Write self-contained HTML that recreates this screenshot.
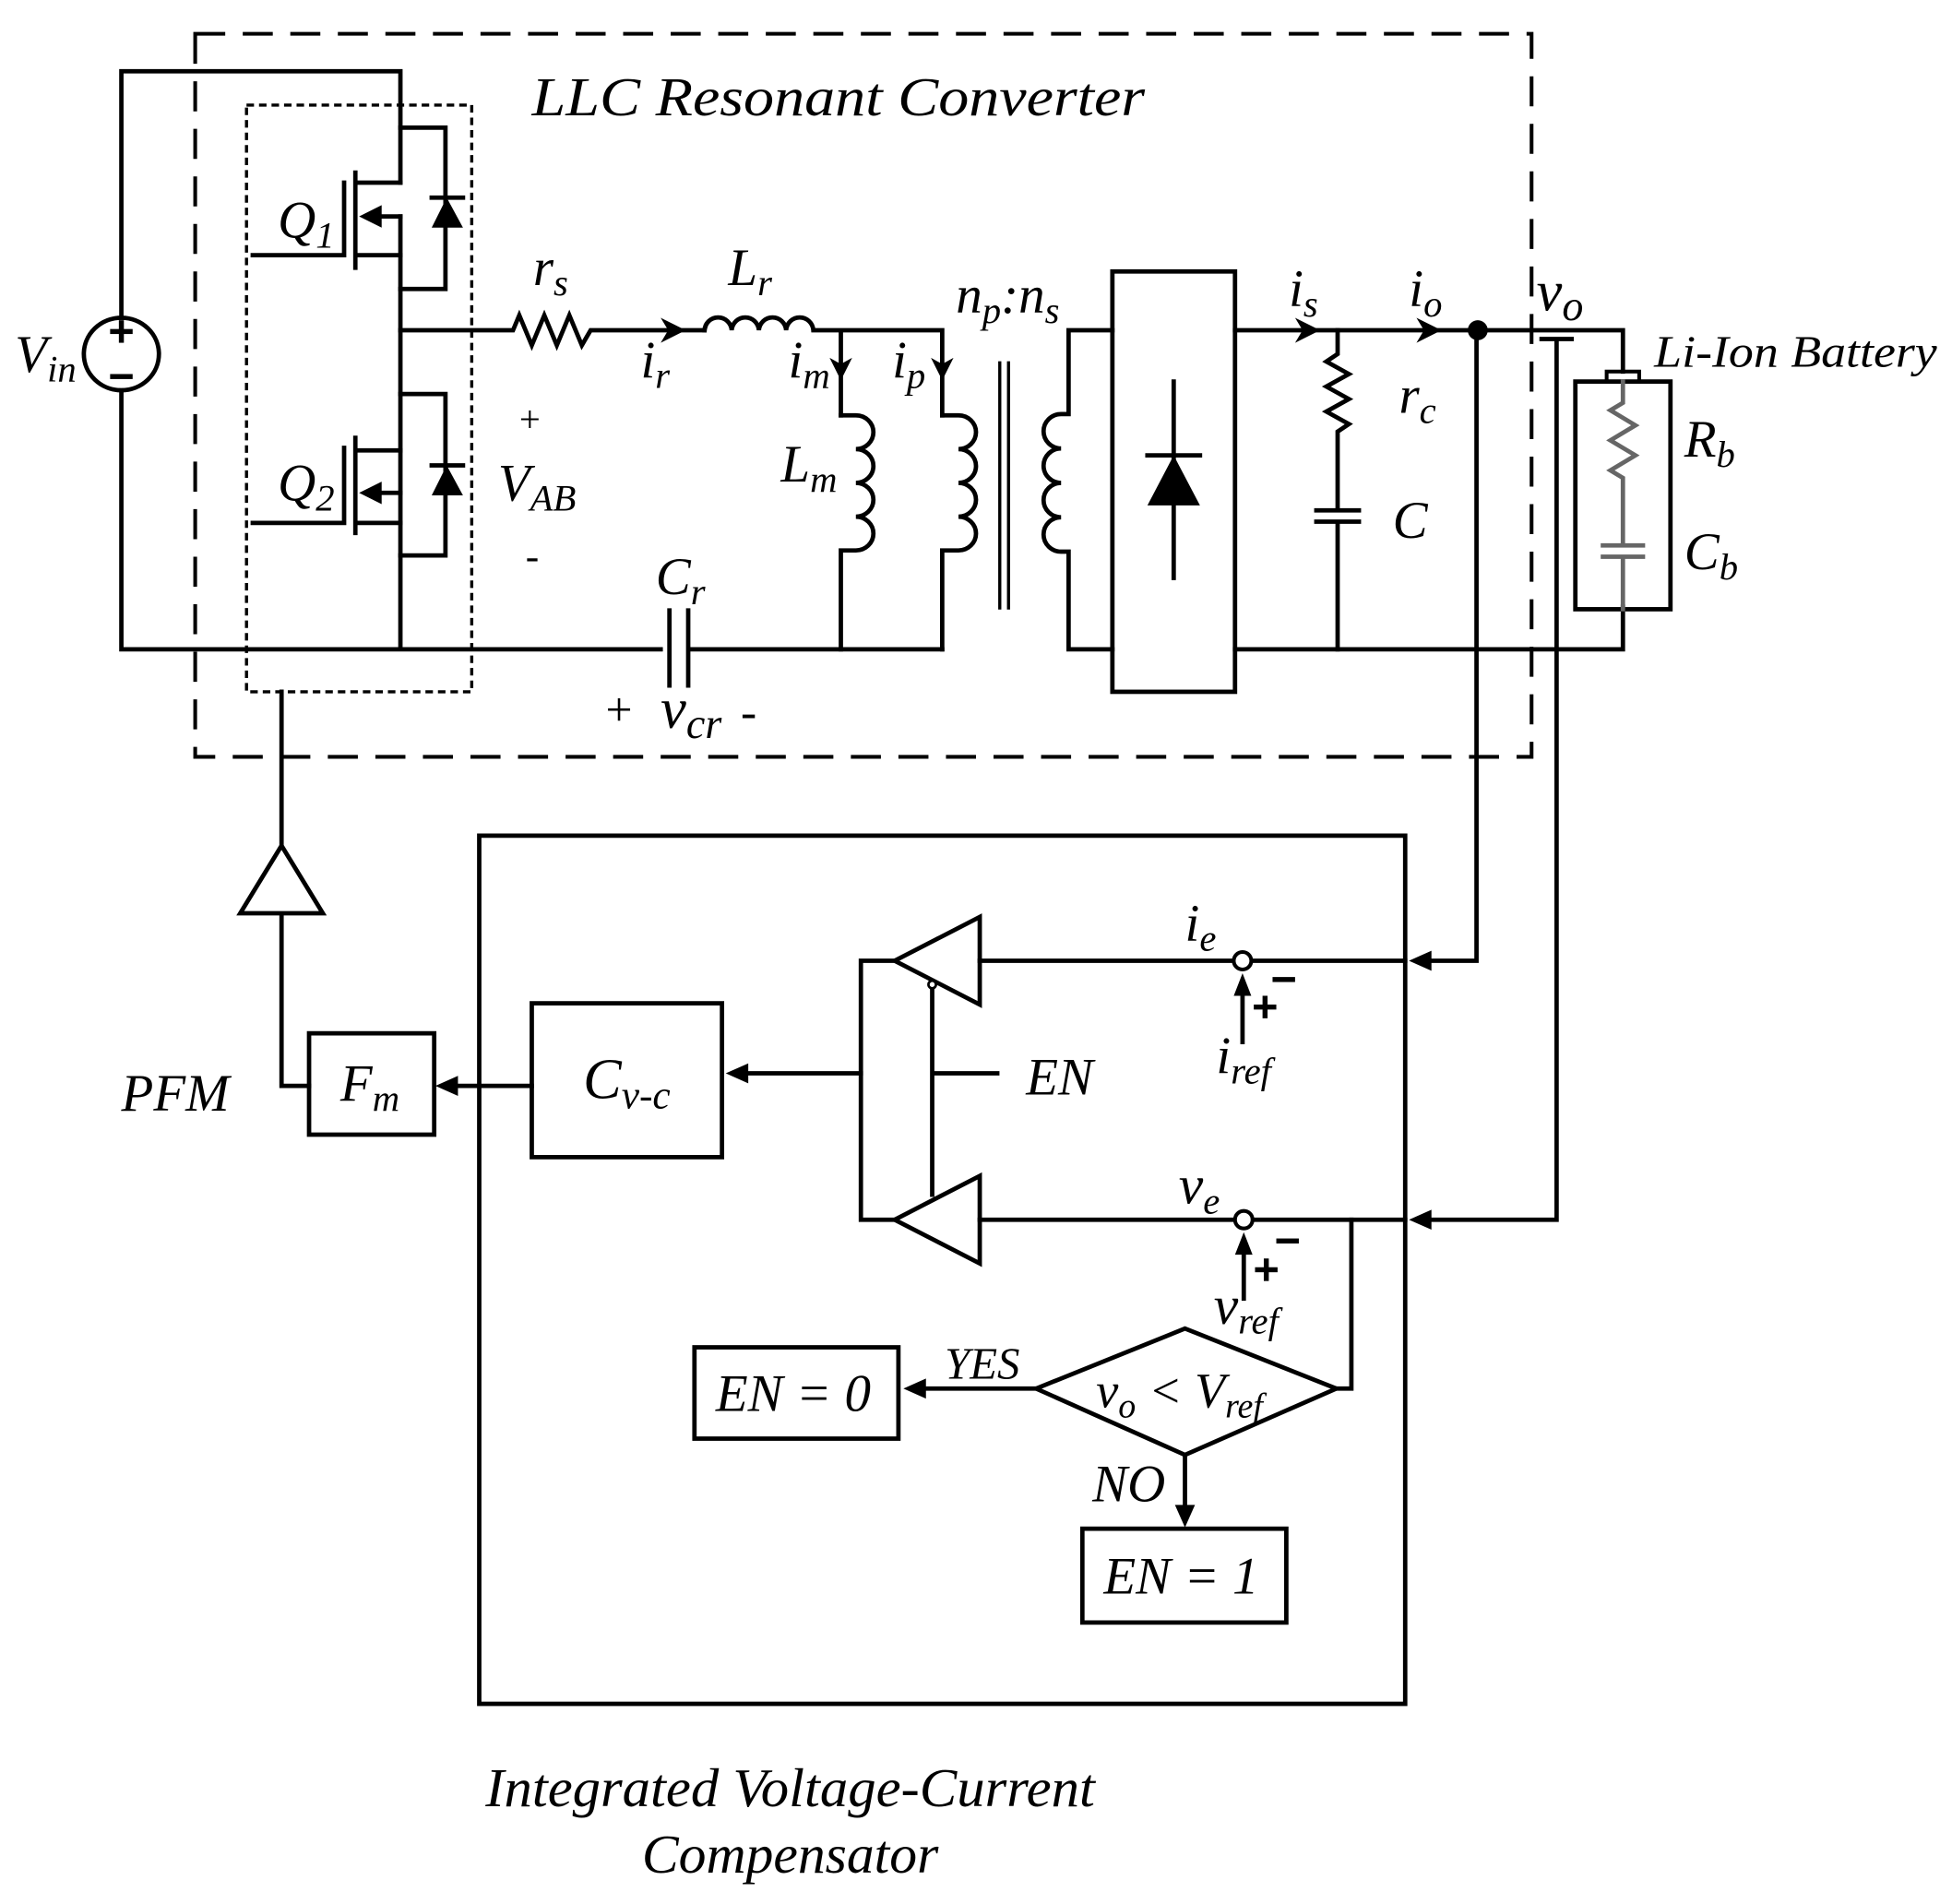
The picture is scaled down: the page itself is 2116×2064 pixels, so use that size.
<!DOCTYPE html>
<html><head><meta charset="utf-8"><style>
html,body{margin:0;padding:0;background:#fff;}
svg{display:block;}
</style></head><body>
<svg width="2116" height="2064" viewBox="0 0 1560 1522" preserveAspectRatio="none" xmlns="http://www.w3.org/2000/svg">
<g fill="none" stroke="#000" stroke-width="3.5" stroke-linecap="square">
<rect x="156" y="27" width="1068" height="578" stroke-width="3" stroke-dasharray="24,14" stroke-linecap="butt"/>
<rect x="197" y="84" width="180" height="469" stroke-width="2.5" stroke-dasharray="6,4" stroke-linecap="butt"/>
<ellipse cx="97" cy="283" rx="30" ry="29"/>
<path d="M97,254 V57 H320 V146 M320,173 V519 M97,312 V519 H528 M552,519 H753"/>
<path d="M284,138 V214 M275,146 V204 M202,204 H275 M284,146 H320 M284,204 H320 M300,173 H320"/>
<path d="M320,102 H356 V231 H320"/>
<path d="M345,158 H370"/>
<path d="M284,350 V426 M275,358 V418 M202,418 H275 M284,360 H320 M284,418 H320 M300,394 H320"/>
<path d="M320,315 H356 V444 H320"/>
<path d="M345,372 H370"/>
<path d="M320,264 H410 l5,-12 l10,24 l10,-24 l10,24 l10,-24 l10,24 l7,-12 H563"/>
<path d="M563,264 a10.9,11 0 0 1 21.75,0 a10.9,11 0 0 1 21.75,0 a10.9,11 0 0 1 21.75,0 a10.9,11 0 0 1 21.75,0 H753 V332 M672,264 V332"/>
<path d="M672,332 H684 a14,13.5 0 0 1 0,27 a14,13.5 0 0 1 0,27 a14,13.5 0 0 1 0,27 a14,13.5 0 0 1 0,27 H672 V519"/>
<path d="M753,332 H766 a14,13.5 0 0 1 0,27 a14,13.5 0 0 1 0,27 a14,13.5 0 0 1 0,27 a14,13.5 0 0 1 0,27 H753 V519"/>
<path d="M535,488 V548 M550,488 V548"/>
<path d="M799,290 V486 M806,290 V486" stroke-width="2.5"/>
<path d="M889,264 H854 V331 H848 a14,13.75 0 0 0 0,27.5 a14,13.75 0 0 0 0,27.5 a14,13.75 0 0 0 0,27.5 a14,13.75 0 0 0 0,27.5 H854 V519 H889"/>
<rect x="889" y="217" width="98" height="336"/>
<path d="M938,305 V462 M917,364 H959"/>
<path d="M987,264 H1297 V297 M987,519 H1297 V485"/>
<path d="M1069,264 V283 l-9,6 l18,10 l-18,10 l18,10 l-18,10 l18,10 l-9,6 V408 M1052,408 H1086 M1052,417 H1086 M1069,417 V519"/>
<path d="M1180,264 V768 H1136"/>
<path d="M1232,271 H1256 M1244,271 V975 H1136"/>
<rect x="1284" y="297" width="26" height="8" stroke-width="3"/>
<rect x="1259" y="305" width="76" height="182"/>
<path d="M1297,305 V322 l-10,6 l20,12 l-20,12 l20,12 l-20,12 l10,6 V436 M1281,436 H1313 M1281,445 H1313 M1297,445 V487" stroke="#666" stroke-width="3.5"/>
<path d="M225,553 V676 M192,730 H258 L225,676 Z M225,730 V868 H247"/>
<rect x="247" y="826" width="100" height="81"/>
<rect x="383" y="668" width="740" height="694"/>
<rect x="425" y="802" width="152" height="123"/>
<path d="M425,868 H360"/>
<path d="M688,858 H594"/>
<path d="M715,768 H688 V975 H715"/>
<path d="M715,768 L783,733 V803 Z M715,975 L783,940 V1010 Z"/>
<path d="M783,768 H986 M1001,768 H1123 M783,975 H987 M1002,975 H1123"/>
<path d="M745,791 V955 M745,858 H797"/>
<path d="M993,833 V792 M994,1038 V999"/>
<path d="M1080,975 V1110 H1068"/>
<path d="M828,1110 L947,1062 L1068,1110 L947,1163 Z"/>
<path d="M828,1110 H734 M947,1163 V1208"/>
<rect x="555" y="1077" width="163" height="73"/>
<rect x="865" y="1222" width="163" height="75"/>
</g>
<g fill="#000" stroke="none">
<circle cx="1181" cy="264" r="8"/>
<rect x="88" y="263" width="18" height="4"/><rect x="95" y="256" width="4" height="18"/>
<rect x="88" y="299" width="18" height="4"/>
<polygon points="345,182 370,182 357,158"/>
<polygon points="345,396 370,396 357,372"/>
<polygon points="917,404 959,404 938,364"/>
<polygon points="287,173 305,164 305,182"/>
<polygon points="287,394 305,385 305,403"/>
<polygon points="548,264 528,254 534,264 528,274"/>
<polygon points="672,304 663,286 672,291 681,286"/>
<polygon points="753,304 744,286 753,291 762,286"/>
<polygon points="1055,264 1035,254 1041,264 1035,274"/>
<polygon points="1152,264 1132,254 1138,264 1132,274"/>
<polygon points="348,868 366,860 366,876"/>
<polygon points="580,858 598,850 598,866"/>
<polygon points="1126,768 1144,760 1144,776"/>
<polygon points="1126,975 1144,967 1144,983"/>
<polygon points="722,1110 740,1102 740,1118"/>
<polygon points="947,1221 939,1203 955,1203"/>
<polygon points="993,778 986,796 1000,796"/>
<polygon points="994,985 987,1003 1001,1003"/>
<rect x="1002" y="803" width="18" height="4"/><rect x="1009" y="796" width="4" height="18"/>
<rect x="1017" y="781" width="18" height="4"/>
<rect x="1003" y="1013" width="18" height="4"/><rect x="1010" y="1006" width="4" height="18"/>
<rect x="1020" y="990" width="18" height="4"/>
</g>
<g fill="#fff" stroke="#000" stroke-width="3">
<circle cx="993" cy="768" r="7"/>
<circle cx="994" cy="975" r="7"/>
<circle cx="745" cy="787" r="3" stroke-width="2"/>
</g>
<g font-family="'Liberation Serif', 'Times New Roman', serif" font-style="italic" fill="#000" font-size="42">
<text x="425" y="92" font-size="44" textLength="490" lengthAdjust="spacingAndGlyphs">LLC Resonant Converter</text>
<text x="12" y="297">V<tspan font-size="30" dy="8">in</tspan></text>
<text x="222" y="190">Q<tspan font-size="30" dy="8">1</tspan></text>
<text x="222" y="400">Q<tspan font-size="30" dy="8">2</tspan></text>
<text x="426" y="228">r<tspan font-size="30" dy="8">s</tspan></text>
<text x="582" y="228">L<tspan font-size="30" dy="8">r</tspan></text>
<text x="512" y="302">i<tspan font-size="30" dy="8">r</tspan></text>
<text x="630" y="302">i<tspan font-size="30" dy="8">m</tspan></text>
<text x="713" y="302">i<tspan font-size="30" dy="8">p</tspan></text>
<text x="415" y="345" font-style="normal" font-size="30">+</text>
<text x="398" y="400">V<tspan font-size="30" dy="8">AB</tspan></text>
<text x="420" y="455" font-style="normal" font-size="32">-</text>
<text x="624" y="385">L<tspan font-size="30" dy="8">m</tspan></text>
<text x="524" y="475">C<tspan font-size="30" dy="8">r</tspan></text>
<text x="484" y="580" font-style="normal" font-size="38">+</text>
<text x="528" y="582" font-size="46">v<tspan font-size="34" dy="8">cr</tspan></text>
<text x="592" y="582" font-style="normal" font-size="38">-</text>
<text x="764" y="250">n<tspan font-size="30" dy="8">p</tspan><tspan dy="-8">:n</tspan><tspan font-size="30" dy="8">s</tspan></text>
<text x="1030" y="245">i<tspan font-size="30" dy="8">s</tspan></text>
<text x="1126" y="245">i<tspan font-size="30" dy="8">o</tspan></text>
<text x="1228" y="248" font-size="46">v<tspan font-size="34" dy="8">o</tspan></text>
<text x="1322" y="293" font-size="36" textLength="226" lengthAdjust="spacingAndGlyphs">Li-Ion Battery</text>
<text x="1118" y="330">r<tspan font-size="30" dy="8">c</tspan></text>
<text x="1113" y="430">C</text>
<text x="1346" y="365">R<tspan font-size="30" dy="8">b</tspan></text>
<text x="1346" y="455">C<tspan font-size="30" dy="8">b</tspan></text>
<text x="97" y="888">PFM</text>
<text x="272" y="880">F<tspan font-size="30" dy="8">m</tspan></text>
<text x="466" y="878" font-size="46">C<tspan font-size="32" dy="8">v-c</tspan></text>
<text x="820" y="875">EN</text>
<text x="947" y="752">i<tspan font-size="30" dy="8">e</tspan></text>
<text x="972" y="858">i<tspan font-size="30" dy="8">ref</tspan></text>
<text x="942" y="962" font-size="44">v<tspan font-size="30" dy="8">e</tspan></text>
<text x="970" y="1058" font-size="44">v<tspan font-size="30" dy="8">ref</tspan></text>
<text x="755" y="1102" font-size="36">YES</text>
<text x="873" y="1200">NO</text>
<text x="572" y="1128">EN = 0</text>
<text x="882" y="1274">EN = 1</text>
<text x="876" y="1125" font-size="40">v<tspan font-size="28" dy="8">o</tspan><tspan dy="-8"> &lt; V</tspan><tspan font-size="28" dy="8">ref</tspan></text>
<text x="388" y="1444" font-size="44" textLength="487" lengthAdjust="spacingAndGlyphs">Integrated Voltage-Current</text>
<text x="513" y="1497" font-size="44" textLength="237" lengthAdjust="spacingAndGlyphs">Compensator</text>
</g>
</svg>
</body></html>
